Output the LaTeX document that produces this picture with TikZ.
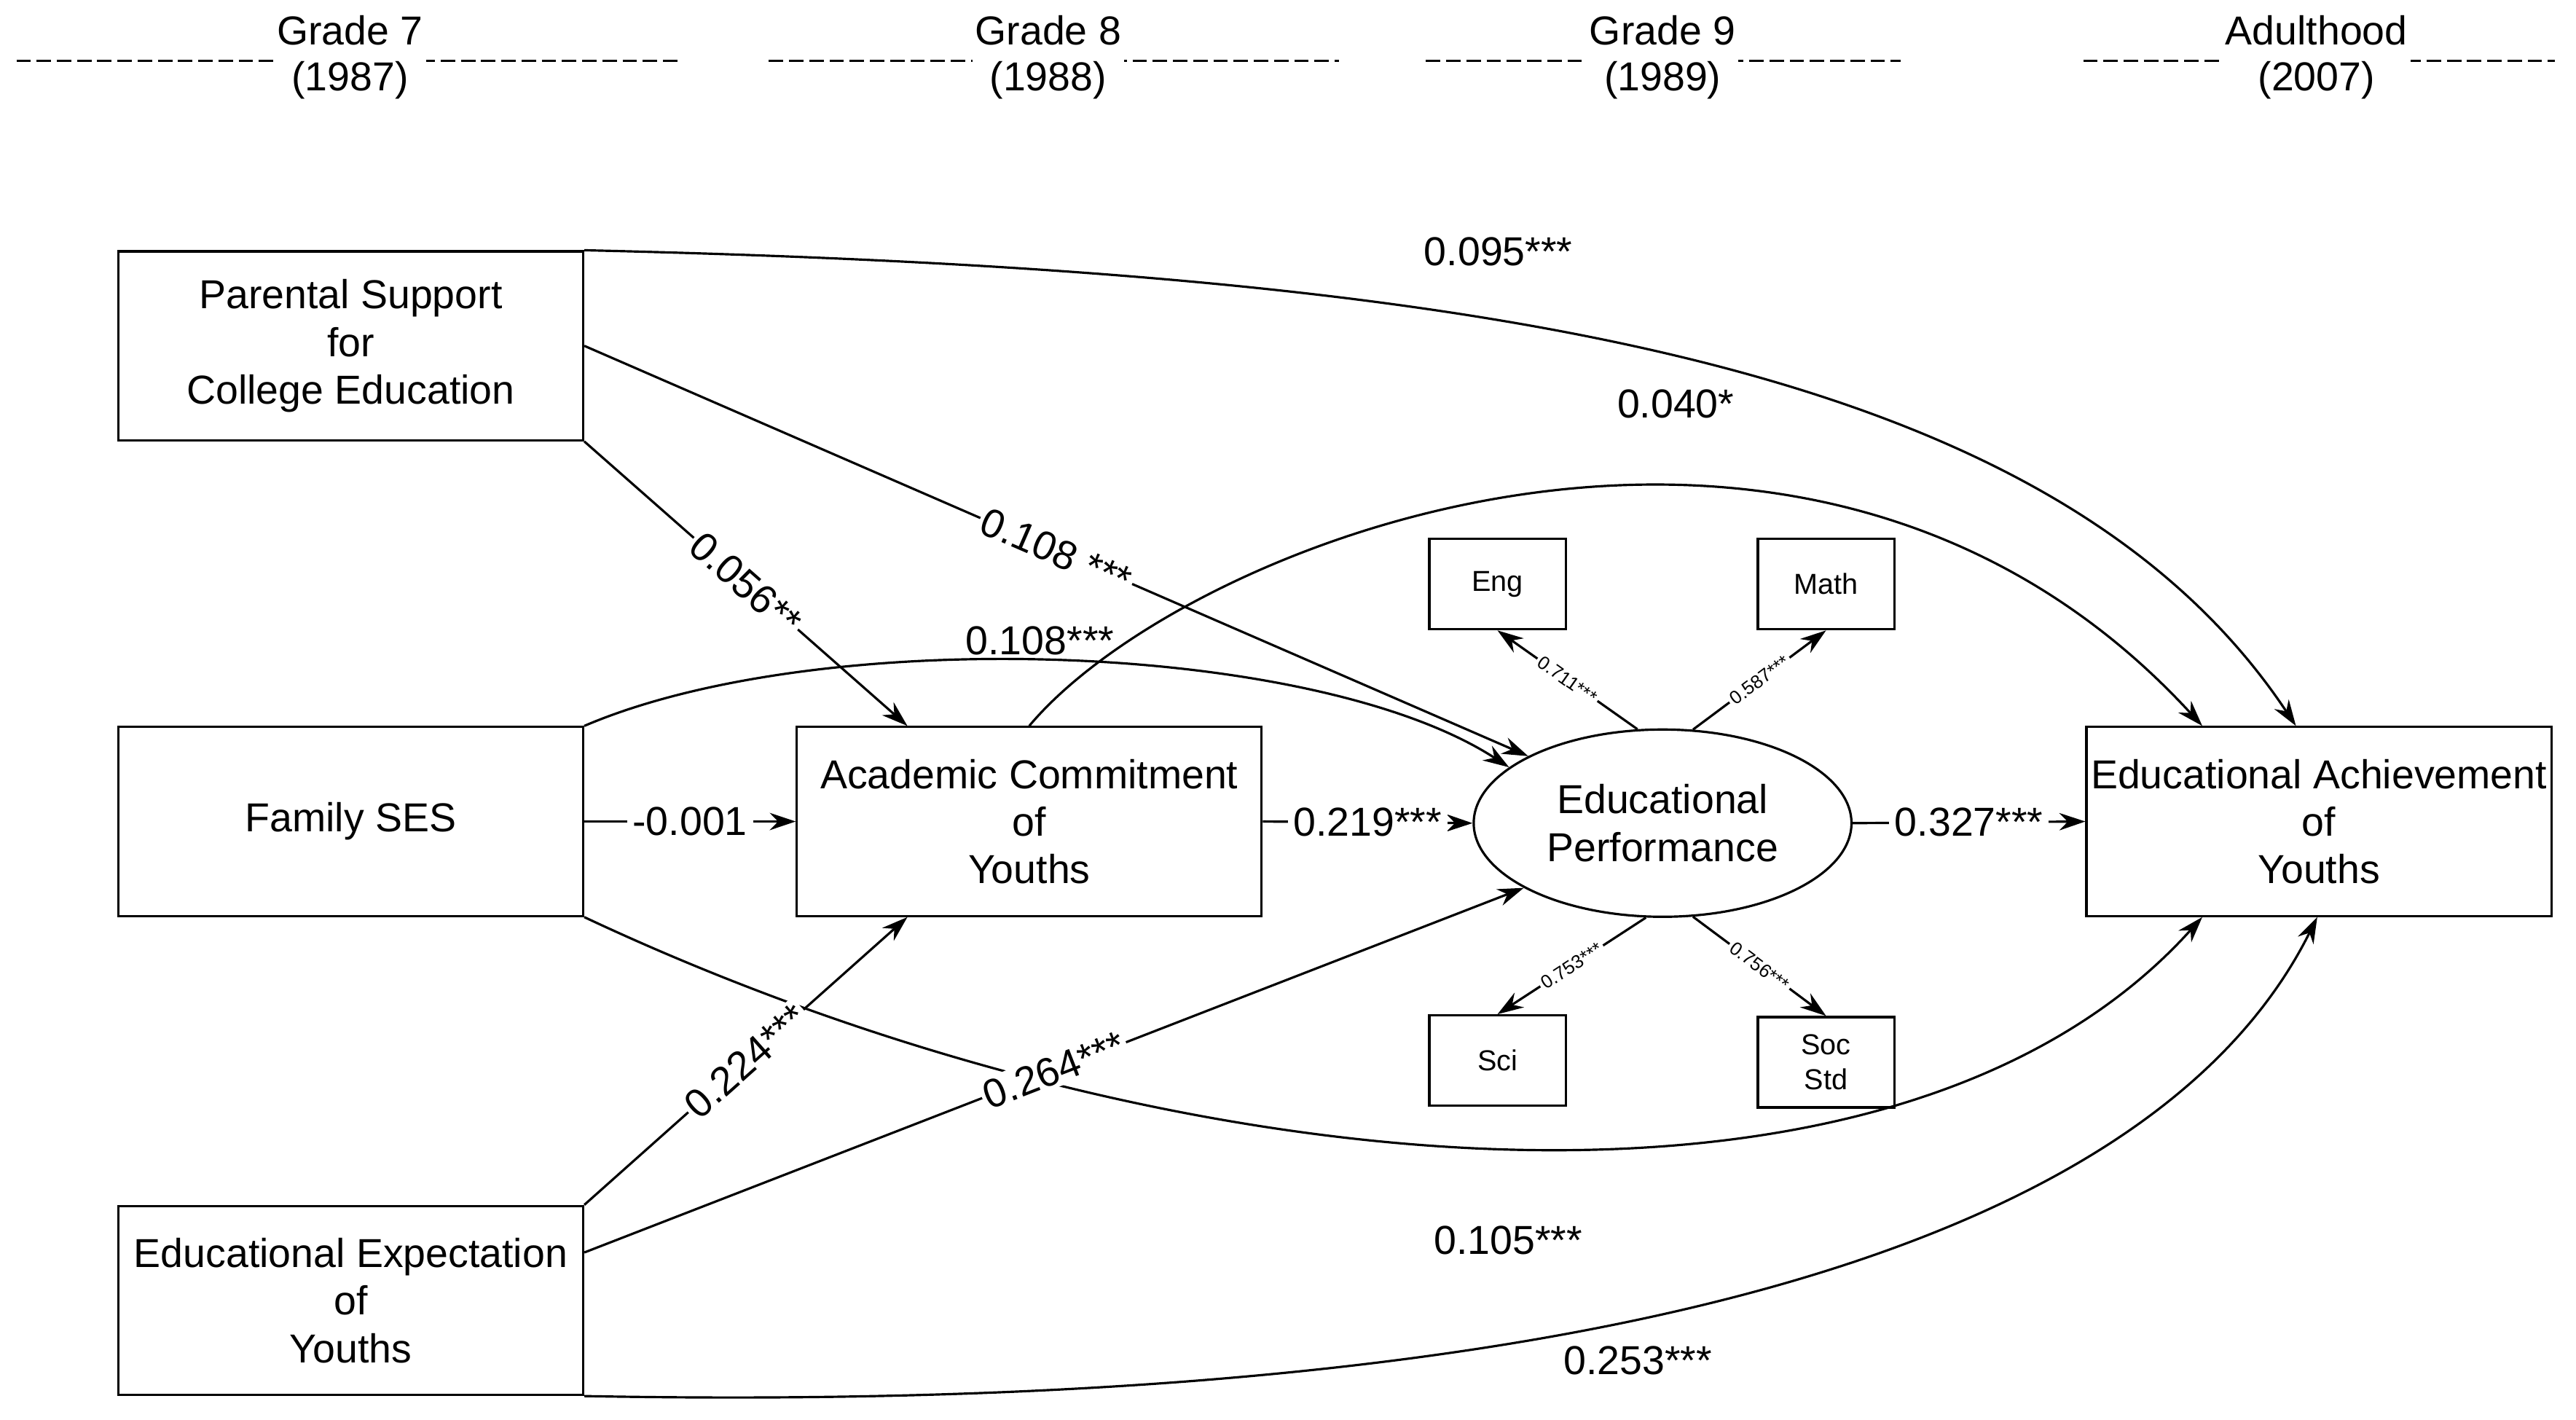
\documentclass[tikz,border=0pt]{standalone}
\usepackage{fontspec}
\setmainfont{Liberation Sans}
\usetikzlibrary{arrows.meta,calc,shapes.geometric}
\begin{document}
\begin{tikzpicture}[x=0.02cm,y=-0.02cm,
 box/.style={draw,thick,minimum width=5.66cm,minimum height=2.3cm,align=center,font=\fontsize{14}{16.5}\selectfont,inner sep=0},
 ind/.style={draw,thick,minimum width=1.66cm,minimum height=1.1cm,align=center,font=\fontsize{10}{12}\selectfont,inner sep=0},
 arr/.style={thick,-{Stealth[length=9pt,width=6pt]}},
 lab/.style={font=\fontsize{14}{16}\selectfont},
 sl/.style={font=\fontsize{6.5}{7}\selectfont,inner sep=1pt},
 hd/.style={font=\fontsize{14}{16}\selectfont,align=center,fill=white,inner sep=1pt},
 dl/.style={thick,dash pattern=on 5pt off 2pt}]
\useasboundingbox (0,0) rectangle (1568,864);
% headers
\draw[dl] (10,37)--(413,37); \node[hd] (h1) at (213,35) {Grade 7\\(1987)};
\draw[dl] (468,37)--(815,37); \node[hd] (h2) at (638,35) {Grade 8\\(1988)};
\draw[dl] (868,37)--(1157,37); \node[hd] (h3) at (1012,35) {Grade 9\\(1989)};
\draw[dl] (1268,37)--(1555,37); \node[hd] (h4) at (1410,35) {Adulthood\\(2007)};
% nodes
\node[box] (ps) at (213.5,210.5) {Parental Support\\for\\College Education};
\node[box] (fs) at (213.5,500) {Family SES};
\node[box] (ee) at (213.5,791.5) {Educational Expectation\\of\\Youths};
\node[box] (ac) at (626.5,500) {Academic Commitment\\of\\Youths};
\node[box] (ach) at (1411.5,500) {Educational Achievement\\of\\Youths};
\node[draw,thick,ellipse,minimum width=4.6cm,minimum height=2.28cm,align=center,font=\fontsize{14}{16.5}\selectfont,inner sep=0] (ep) at (1012,501) {Educational\\Performance};
\node[ind] (eng) at (911.5,355.5) {Eng};
\node[ind] (math) at (1111.5,355.5) {Math};
\node[ind] (sci) at (911.5,645.5) {Sci};
\node[ind] (soc) at (1111.5,646.5) {Soc\\Std};
% coordinates
\coordinate (a1) at ($(ach.north)+(-71,0)$);
\coordinate (a2) at ($(ach.north)+(-14,0)$);
\coordinate (b1) at ($(ach.south)+(-71,0)$);
\coordinate (b2) at ($(ach.south)+(-1,0)$);
\coordinate (ee2) at ($(ee.north east)+(0,29)$);
\coordinate (acs1) at ($(ac.south west)+(68,0)$);
\coordinate (acn1) at ($(ac.north west)+(68,0)$);
% edges
\draw[arr] (ps.north east) .. controls (900,165) and (1250,220) .. (a2);
\node[lab] (l1) at (912,153) {0.095***};
\draw[arr] (ac.north) .. controls (720,330) and (1100,180) .. (a1);
\node[lab] (l2) at (1020,246) {0.040*};
\draw[arr] (ps.east) -- node[lab,sloped,fill=white,inner sep=1pt,pos=0.5] {0.108 ***} (ep.north west);
\draw[arr] (ps.south east) -- node[lab,sloped,fill=white,inner sep=1pt,pos=0.5] {0.056**} (acn1);
\draw[arr] (fs.north east) .. controls (500,380) and (800,390) .. (ep.160);
\node[lab] (l3) at (633,390) {0.108***};
\draw[arr] (fs.east) -- node[lab,fill=white,inner sep=2pt] {-0.001} (ac.west);
\draw[arr] (ac.east) -- node[lab,fill=white,inner sep=2pt] {0.219***} (ep.west);
\draw[arr] (ep.east) -- node[lab,fill=white,inner sep=2pt] {0.327***} (ach.west);
\draw[arr] (fs.south east) .. controls (700,720) and (1150,770) .. (b1);
\node[lab] (l4) at (918,755) {0.105***};
\draw[arr] (ee.north east) -- node[lab,sloped,fill=white,inner sep=1pt] {0.224***} (acs1);
\draw[arr] (ee2) -- node[lab,sloped,fill=white,inner sep=1pt,pos=0.5] {0.264***} (ep.205);
\draw[arr] (ee.south east) .. controls (900,860) and (1300,780) .. (b2);
\node[lab] (l5) at (997,828) {0.253***};
% indicators
\draw[arr] (ep.105) -- node[sl,sloped,fill=white] {0.711***} (eng.south);
\draw[arr] (ep.72) -- node[sl,sloped,fill=white] {0.587***} (math.south);
\draw[arr] (ep.-100) -- node[sl,sloped,fill=white] {0.753***} (sci.north);
\draw[arr] (ep.-72) -- node[sl,sloped,fill=white] {0.756***} (soc.north);
\end{tikzpicture}
\end{document}
